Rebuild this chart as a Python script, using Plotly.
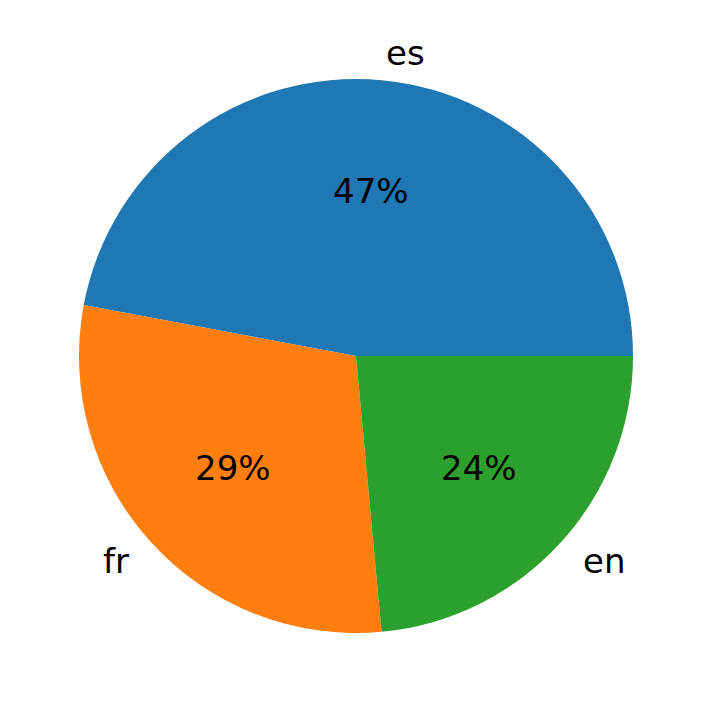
import numpy as np
import plotly.graph_objects as go

# slice data (counts, shown as percentages)
labels = ["es", "fr", "en"]
values = [8, 5, 4]
colors = ["#1f77b4", "#ff7f0e", "#2ca02c"]

OFF = 8  # default body margin of the html page
W, H = 712 - OFF, 713 - OFF
cx, cy, r = 356 - OFF, 356 - OFF, 277  # pie centre / radius in figure pixels

vals = np.array(values, dtype=float)
frac = vals / vals.sum()

fig = go.Figure()
fig.add_trace(
    go.Pie(
        labels=labels,
        values=values,
        sort=False,
        direction="counterclockwise",
        # first slice starts at 3 o'clock and runs counterclockwise
        rotation=90 - 360 * frac[0],
        marker=dict(colors=colors, line=dict(width=0)),
        textinfo="none",
        hoverinfo="label+percent",
        showlegend=False,
        domain=dict(x=[(cx - r) / W, (cx + r) / W], y=[1 - (cy + r) / H, 1 - (cy - r) / H]),
    )
)

# matplotlib-style text: percents at 0.6 r, labels at 1.1 r
start = np.concatenate([[0], np.cumsum(frac)[:-1]]) * 360
mid = np.radians(start + frac * 180)
font = dict(family="DejaVu Sans", size=34, color="black")
for lab, f, a in zip(labels, frac, mid):
    px = cx + 0.6 * r * np.cos(a)
    py = cy - 0.6 * r * np.sin(a)
    fig.add_annotation(x=px / W, y=1 - py / H, xref="paper", yref="paper",
                       text=f"{f * 100:.0f}%", showarrow=False, font=font,
                       xanchor="center", yanchor="middle")
    lx = cx + 1.1 * r * np.cos(a)
    ly = cy - 1.1 * r * np.sin(a)
    fig.add_annotation(x=lx / W, y=1 - ly / H, xref="paper", yref="paper",
                       text=lab, showarrow=False, font=font,
                       xanchor="left" if np.cos(a) > 0 else "right", yanchor="middle")

fig.update_layout(
    width=W,
    height=H,
    margin=dict(l=0, r=0, t=0, b=0),
    paper_bgcolor="white",
    plot_bgcolor="white",
)

fig.write_html("out.html")
